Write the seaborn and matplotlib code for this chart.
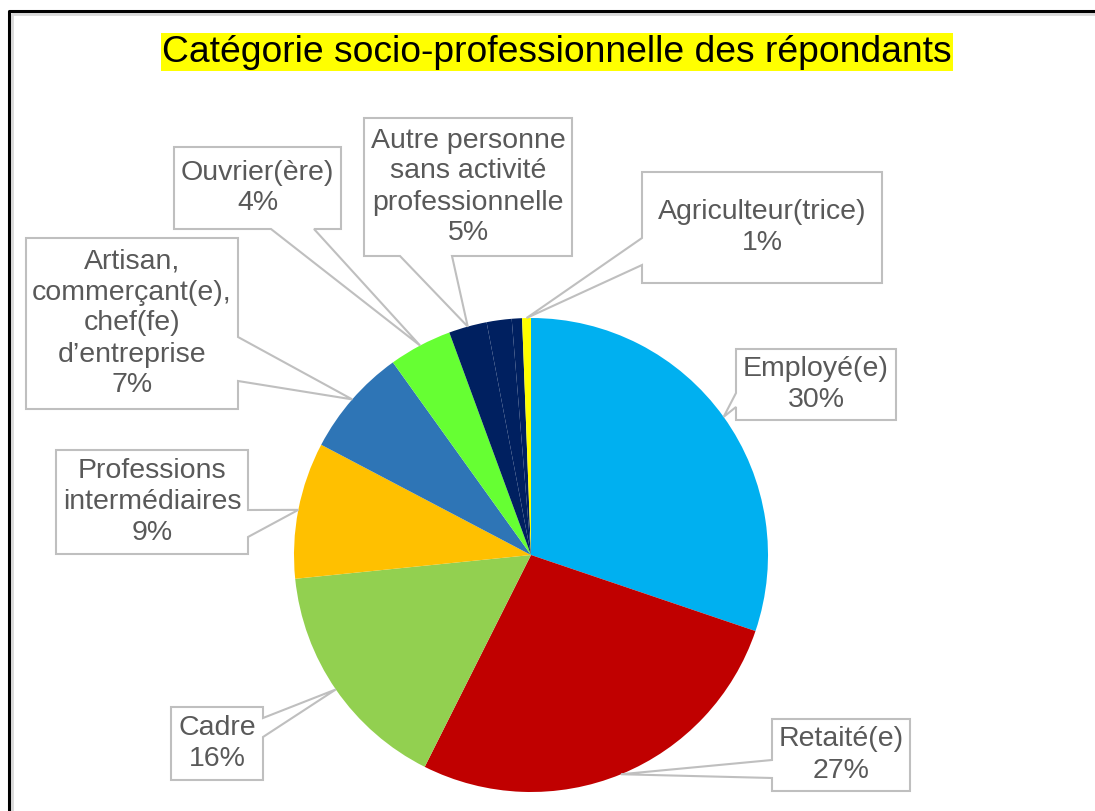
import numpy as np
import matplotlib.pyplot as plt
from matplotlib.patches import Polygon
import seaborn as sns

# data (share of respondents, %)
categories = ["Employé(e)", "Retaité(e)", "Cadre", "Professions\nintermédiaires",
              "Artisan,\ncommerçant(e),\nchef(fe)\nd’entreprise", "Ouvrier(ère)",
              "Autre personne\nsans activité\nprofessionnelle", "", "", "Agriculteur(trice)"]
shares = [30.2, 27.2, 16.0, 9.3, 7.4, 4.3, 2.6, 1.7, 0.7, 0.6]
pct_labels = ["30%", "27%", "16%", "9%", "7%", "4%", "5%", None, None, "1%"]
colors = ["#00B0F0", "#C00000", "#92D050", "#FFC000", "#2E75B6", "#66FF33",
          "#002060", "#002060", "#002060", "#FFFF00"]
title = "Catégorie socio-professionnelle des répondants"

# callout boxes in pixels (x0, y0, x1, y1), side of the pointer, pointer base
boxes = {
    0: ((736, 349, 896, 420), "left", (393, 407)),
    1: ((772, 719, 910, 791), "left", (760, 778)),
    2: ((171, 707, 263, 780), "right", (718, 737)),
    3: ((56, 450, 248, 554), "right", (510, 537)),
    4: ((26, 238, 238, 409), "right", (337, 381)),
    5: ((174, 147, 341, 229), "bottom", (271, 314)),
    6: ((364, 118, 572, 256), "bottom", (400, 452)),
    9: ((642, 172, 882, 283), "left", (238, 265)),
}

W, H = 1095, 811
sns.set_style("white")
plt.rcParams['font.family'] = ['Liberation Sans', 'DejaVu Sans']

fig = plt.figure(figsize=(W / 100, H / 100), dpi=100)
ax = fig.add_axes([0, 0, 1, 1])

cx, cy, r = 531, H - 555, 237
wedges, _ = ax.pie(shares, colors=colors, startangle=90, counterclock=False,
                   center=(cx, cy), radius=r,
                   wedgeprops=dict(linewidth=0))
ax.set_xlim(0, W)
ax.set_ylim(0, H)
ax.set_aspect('equal')
ax.axis('off')

# callouts: box + wedge pointer ending on the slice rim
for i, (box, side, base) in boxes.items():
    w = wedges[i]
    th = np.deg2rad((w.theta1 + w.theta2) / 2)
    tip = (cx + r * np.cos(th), cy + r * np.sin(th))
    x0, y0, x1, y1 = box
    pts = [(x0, y0), (x1, y0)]
    if side == "right":
        pts += [(x1, base[0]), "tip", (x1, base[1]), (x1, y1), (x0, y1)]
    elif side == "bottom":
        pts += [(x1, y1), (base[1], y1), "tip", (base[0], y1), (x0, y1)]
    else:
        pts += [(x1, y1), (x0, y1), (x0, base[1]), "tip", (x0, base[0])]
    pts = [tip if p == "tip" else (p[0], H - p[1]) for p in pts]
    ax.add_patch(Polygon(pts, closed=True, facecolor="white",
                         edgecolor="#BFBFBF", linewidth=1.5, zorder=5))
    ax.text((x0 + x1) / 2, H - (y0 + y1) / 2, categories[i] + "\n" + pct_labels[i],
            ha="center", va="center", fontsize=20.5, color="#595959",
            linespacing=1.25, zorder=6)

# title with yellow highlight
ax.text(557, H - 52, title, ha="center", va="center", fontsize=26.8, color="black",
        bbox=dict(boxstyle="square,pad=0.04", facecolor="#FFFF00", edgecolor="none"),
        zorder=6)

# slide frame (top and left edges with a soft shadow)
ax.plot([12, 12, W], [0, H - 14, H - 14], color="#D9D9D9", lw=2, zorder=7)
ax.plot([9, 9, W], [0, H - 11, H - 11], color="black", lw=2.2, zorder=8)

fig.savefig("out.png", dpi=100)
